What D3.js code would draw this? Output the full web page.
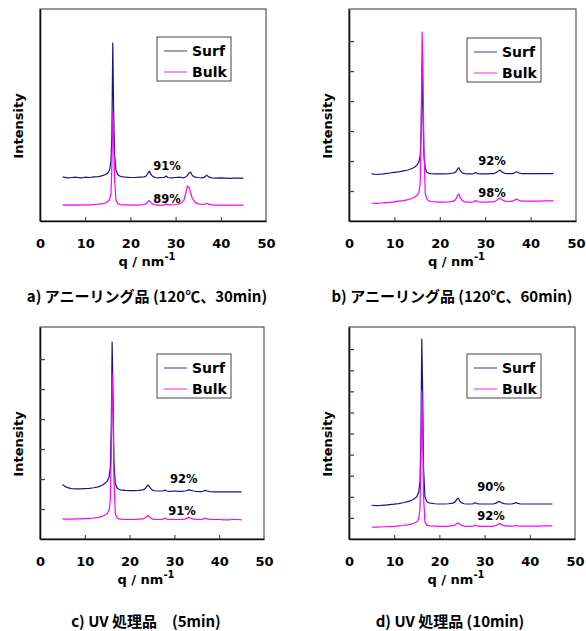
<!DOCTYPE html>
<html>
<head>
<meta charset="utf-8">
<script src="https://cdn.jsdelivr.net/npm/d3@7"></script>
<style>
  html, body { margin: 0; padding: 0; background: #fff; }
  svg { display: block; }
</style>
</head>
<body>
<svg id="chart" width="586" height="631"></svg>
<script>
// ---------------- DATA ----------------
const qGrid = [5,6,7,8,9,10,11,12,13,14,14.5,15,15.4,15.7,15.9,16.1,16.3,16.5,16.8,17.2,17.6,18,19,20,21,22,23,23.5,23.9,24.2,24.5,25,25.5,26,27,27.5,27.9,28.3,29,30,31,31.8,32.2,32.6,33,33.3,33.7,34.3,35,36,36.5,36.9,37.3,38,39,40,41,42,43,44,45];

const surfA = [1.47,1.44,1.45,1.46,1.44,1.46,1.45,1.47,1.48,1.52,1.55,1.6,1.7,2.0,2.9,5.93,3.6,2.2,1.7,1.55,1.5,1.48,1.46,1.45,1.45,1.46,1.47,1.5,1.6,1.66,1.56,1.48,1.45,1.44,1.45,1.45,1.5,1.45,1.44,1.45,1.46,1.44,1.47,1.52,1.6,1.63,1.52,1.46,1.45,1.44,1.47,1.53,1.47,1.44,1.43,1.44,1.43,1.42,1.43,1.43,1.43];
const bulkA = [0.53,0.54,0.53,0.54,0.53,0.54,0.54,0.55,0.56,0.58,0.6,0.65,0.72,0.9,1.8,3.63,2.6,1.4,0.7,0.58,0.55,0.54,0.54,0.53,0.53,0.54,0.55,0.58,0.65,0.68,0.62,0.55,0.54,0.53,0.53,0.54,0.57,0.54,0.54,0.55,0.58,0.68,0.9,1.17,1.12,0.95,0.75,0.62,0.57,0.55,0.56,0.59,0.56,0.54,0.53,0.53,0.53,0.53,0.53,0.53,0.53];

const surfB = [1.57,1.55,1.56,1.58,1.6,1.62,1.64,1.67,1.7,1.76,1.8,1.87,1.97,2.2,3.0,5.27,3.5,2.2,1.75,1.62,1.59,1.58,1.57,1.57,1.57,1.58,1.6,1.63,1.73,1.78,1.68,1.6,1.58,1.57,1.57,1.58,1.62,1.58,1.57,1.57,1.58,1.58,1.6,1.63,1.68,1.7,1.63,1.59,1.58,1.58,1.61,1.64,1.61,1.58,1.58,1.58,1.58,1.58,1.58,1.58,1.58];
const bulkB = [0.6,0.59,0.6,0.61,0.62,0.64,0.66,0.68,0.71,0.76,0.8,0.86,0.95,1.3,3.2,6.3,5.0,2.4,0.9,0.72,0.67,0.65,0.64,0.63,0.63,0.64,0.66,0.72,0.85,0.9,0.78,0.67,0.64,0.63,0.63,0.64,0.68,0.65,0.63,0.63,0.64,0.64,0.66,0.7,0.75,0.77,0.71,0.66,0.65,0.66,0.7,0.73,0.7,0.66,0.66,0.66,0.66,0.66,0.67,0.67,0.67];

const surfC = [1.82,1.72,1.68,1.67,1.67,1.68,1.69,1.71,1.74,1.8,1.86,1.93,2.05,2.4,3.6,6.57,4.8,2.6,1.85,1.7,1.66,1.64,1.62,1.61,1.61,1.62,1.64,1.68,1.77,1.8,1.72,1.64,1.61,1.6,1.6,1.6,1.63,1.6,1.59,1.6,1.59,1.59,1.6,1.61,1.63,1.64,1.62,1.6,1.59,1.58,1.6,1.62,1.6,1.58,1.57,1.57,1.57,1.57,1.57,1.57,1.57];
const bulkC = [0.67,0.66,0.66,0.67,0.67,0.68,0.69,0.7,0.72,0.76,0.8,0.85,0.95,1.3,2.8,5.53,4.2,2.0,0.85,0.7,0.67,0.66,0.65,0.65,0.65,0.66,0.67,0.71,0.76,0.78,0.73,0.67,0.65,0.65,0.65,0.66,0.7,0.66,0.65,0.65,0.65,0.65,0.66,0.68,0.71,0.72,0.69,0.66,0.65,0.65,0.67,0.7,0.67,0.65,0.65,0.65,0.64,0.64,0.65,0.65,0.64];

const surfD = [1.6,1.58,1.59,1.61,1.63,1.65,1.68,1.72,1.77,1.85,1.92,2.0,2.2,2.7,4.5,9.48,7.0,3.3,2.0,1.78,1.72,1.7,1.67,1.66,1.66,1.67,1.7,1.76,1.9,1.93,1.8,1.7,1.67,1.66,1.66,1.67,1.72,1.68,1.66,1.66,1.66,1.66,1.68,1.71,1.76,1.78,1.72,1.68,1.66,1.66,1.69,1.73,1.69,1.66,1.66,1.66,1.66,1.66,1.66,1.66,1.66];
const bulkD = [0.57,0.56,0.57,0.58,0.59,0.6,0.62,0.64,0.67,0.72,0.76,0.82,0.95,1.4,3.5,7.0,5.0,2.0,0.8,0.66,0.63,0.62,0.61,0.6,0.6,0.61,0.63,0.67,0.74,0.76,0.7,0.63,0.61,0.6,0.6,0.61,0.66,0.62,0.6,0.6,0.6,0.6,0.62,0.65,0.7,0.73,0.68,0.63,0.61,0.61,0.62,0.64,0.62,0.61,0.61,0.61,0.61,0.61,0.62,0.62,0.62];

const xTicks = [0, 10, 20, 30, 40, 50];
const seriesNames = ["Surf", "Bulk"];
const captions = ["a) アニーリング品 (120℃、30min)", "b) アニーリング品 (120℃、60min)", "c) UV 処理品\u3000(5min)", "d) UV 処理品 (10min)"];
const surfPct = ["91%", "92%", "92%", "90%"];
const bulkPct = ["89%", "98%", "91%", "92%"];

// ---------------- LAYOUT ----------------
const colors = { Surf: "#16168a", Bulk: "#ff00ff" };
const latin = "'DejaVu Sans', 'Liberation Sans', sans-serif";
const cjk = "'Noto Sans CJK JP', 'DejaVu Sans', sans-serif";

const panels = [
  { surf: surfA, bulk: bulkA, cap: 0, left: 40,  right: 266, top: 9,   bottom: 221, yMax: 7.07, yTicks: [],
    capX: 147, capY: 302, legend: { x: 157, y: 37 }, pS: [28.1, 1.7], pB: [28.1, 0.6] },
  { surf: surfB, bulk: bulkB, cap: 1, left: 349, right: 576, top: 9,   bottom: 221, yMax: 7.07, yTicks: [1,2,3,4,5,6],
    capX: 452, capY: 302, legend: { x: 467, y: 38 }, pS: [31.5, 1.87], pB: [31.5, 0.8] },
  { surf: surfC, bulk: bulkC, cap: 2, left: 40,  right: 264, top: 327, bottom: 539, yMax: 7.07, yTicks: [1,2,3,4,5,6],
    capX: 146, capY: 627, legend: { x: 157, y: 354 }, pS: [32.1, 1.87], pB: [31.7, 0.8] },
  { surf: surfD, bulk: bulkD, cap: 3, left: 349, right: 575, top: 327, bottom: 539, yMax: 10.05, yTicks: [1,2,3,4,5,6,7,8,9],
    capX: 450, capY: 627, legend: { x: 467, y: 354 }, pS: [31.4, 2.27], pB: [31.4, 0.9] }
];

const svg = d3.select("#chart");

panels.forEach((p, i) => {
  const x = d3.scaleLinear().domain([0, 50]).range([p.left, p.right]);
  const y = d3.scaleLinear().domain([0, p.yMax]).range([p.bottom, p.top]);
  const g = svg.append("g");

  // frame
  g.append("rect")
    .attr("x", p.left).attr("y", p.top)
    .attr("width", p.right - p.left).attr("height", p.bottom - p.top)
    .attr("fill", "none").attr("stroke", "#555").attr("stroke-width", 1.2);

  // x axis (inside ticks, labels below)
  const xAxis = d3.axisBottom(x).tickValues(xTicks).tickSize(-4).tickPadding(10).tickSizeOuter(0);
  const xa = g.append("g").attr("transform", `translate(0,${p.bottom})`).call(xAxis);
  xa.select(".domain").attr("stroke", "#111").attr("stroke-width", 1.6);
  xa.selectAll(".tick line").attr("stroke", "#333").attr("stroke-width", 1)
    .filter(d => d === 0 || d === 50).remove();
  xa.selectAll(".tick text")
    .attr("y", 27).attr("dy", null)
    .style("font-family", latin).style("font-size", "13px").style("font-weight", "bold").attr("fill", "#000");

  // y axis (inside ticks, no labels)
  const yAxis = d3.axisLeft(y).tickValues(p.yTicks).tickSize(-5).tickFormat("").tickSizeOuter(0);
  const ya = g.append("g").attr("transform", `translate(${p.left},0)`).call(yAxis);
  ya.select(".domain").attr("stroke", "#111").attr("stroke-width", 1.6);
  ya.selectAll(".tick line").attr("stroke", "#444").attr("stroke-width", 1.3);

  // lines
  const line = d3.line().x((d, k) => x(qGrid[k])).y(d => y(d));
  [["Surf", p.surf], ["Bulk", p.bulk]].forEach(([name, vals]) => {
    g.append("path").datum(vals)
      .attr("d", line)
      .attr("fill", "none")
      .attr("stroke", colors[name])
      .attr("stroke-width", 1.2)
      .attr("stroke-linejoin", "round");
  });

  // percent labels
  g.append("text").attr("x", x(p.pS[0])).attr("y", y(p.pS[1]))
    .attr("text-anchor", "middle").style("font-family", latin).style("font-size", "11.5px").style("font-weight", "bold")
    .text(surfPct[i]);
  g.append("text").attr("x", x(p.pB[0])).attr("y", y(p.pB[1]))
    .attr("text-anchor", "middle").style("font-family", latin).style("font-size", "11.5px").style("font-weight", "bold")
    .text(bulkPct[i]);

  // legend
  const lg = g.append("g").attr("transform", `translate(${p.legend.x},${p.legend.y})`);
  lg.append("rect").attr("width", 74).attr("height", 44)
    .attr("fill", "#fff").attr("stroke", "#444").attr("stroke-width", 1);
  seriesNames.forEach((name, k) => {
    const cy = 14 + k * 21;
    lg.append("line").attr("x1", 7).attr("x2", 30).attr("y1", cy).attr("y2", cy)
      .attr("stroke", name === "Surf" ? "#5a5aa8" : "#ff40ff").attr("stroke-width", 1.2);
    lg.append("text").attr("x", 35).attr("y", cy + 5)
      .style("font-family", latin).style("font-size", "14px").style("font-weight", "bold")
      .text(name);
  });

  // axis titles
  const xt = g.append("text")
    .attr("x", (p.left + p.right) / 2 - 6).attr("y", p.bottom + 45)
    .attr("text-anchor", "middle")
    .style("font-family", latin).style("font-size", "13px").style("font-weight", "bold");
  xt.append("tspan").text("q  /  nm");
  xt.append("tspan").attr("dy", -6).style("font-size", "10px").text("-1");

  g.append("text")
    .attr("transform", `translate(${p.left - 17},${(p.top + p.bottom) / 2 + 11}) rotate(-90)`)
    .attr("text-anchor", "middle")
    .style("font-family", latin).style("font-size", "13px").style("font-weight", "bold")
    .text("Intensity");

  // caption
  g.append("text").attr("x", p.capX).attr("y", p.capY)
    .attr("text-anchor", "middle")
    .style("font-family", cjk).style("font-size", "15px").style("font-weight", "bold")
    .text(captions[p.cap]);
});
</script>
</body>
</html>
